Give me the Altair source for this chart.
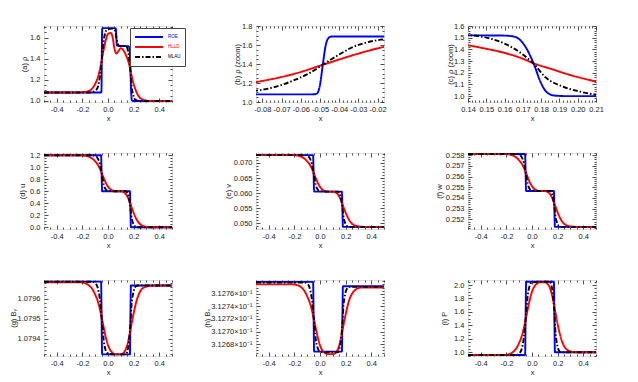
import json
import math
import altair as alt
import pandas as pd

FONT = "Liberation Sans"
METHODS = ["ROE", "HLLD", "MLAU"]
COLORS = ["#0000ff", "#ff0000", "#000000"]
DASHES = [[1, 0], [1, 0], [5, 2, 1.5, 2]]

# ---------------- density (panels a, b, c) ----------------
rho_x_roe = [-0.5, -0.3, -0.1, -0.06, -0.053, -0.0515, -0.05, -0.0485, -0.047, -0.0455, -0.044, -0.04,
             0.0, 0.04, 0.06, 0.063, 0.066, 0.069, 0.075, 0.1,
             0.14, 0.16, 0.165, 0.1678, 0.1715, 0.176, 0.1797, 0.183, 0.1873, 0.195, 0.21, 0.3, 0.5]
rho_roe = [1.08, 1.08, 1.08, 1.08, 1.081, 1.09, 1.18, 1.40, 1.60, 1.675, 1.69, 1.69,
           1.69, 1.69, 1.688, 1.66, 1.58, 1.53, 1.522, 1.52,
           1.52, 1.518, 1.51, 1.49, 1.42, 1.275, 1.12, 1.035, 1.005, 1.0, 1.0, 1.0, 1.0]
rho_x_hlld = [-0.5, -0.25, -0.2, -0.16, -0.13, -0.11, -0.0833, -0.0628, -0.048, -0.0333,
              -0.0167, 0.0, 0.02, 0.035, 0.05, 0.065, 0.08, 0.1, 0.12, 0.14,
              0.15, 0.16, 0.17, 0.176, 0.185, 0.195, 0.21, 0.23, 0.25, 0.28, 0.32, 0.5]
rho_hlld = [1.08, 1.08, 1.082, 1.09, 1.11, 1.14, 1.21, 1.30, 1.395, 1.49,
            1.58, 1.635, 1.645, 1.61, 1.50, 1.45, 1.47, 1.50, 1.48, 1.435,
            1.405, 1.37, 1.32, 1.28, 1.235, 1.185, 1.125, 1.065, 1.03, 1.01, 1.0, 1.0]
rho_x_mlau = [-0.5, -0.15, -0.12, -0.1, -0.0833, -0.075, -0.0628, -0.055, -0.048, -0.04,
              -0.0333, -0.025, -0.0167, 0.0, 0.03, 0.05, 0.06, 0.07, 0.08, 0.1,
              0.14, 0.1513, 0.1606, 0.1697, 0.176, 0.1824, 0.1914, 0.2005, 0.2103, 0.23, 0.26, 0.5]
rho_mlau = [1.08, 1.08, 1.085, 1.10, 1.12, 1.15, 1.235, 1.31, 1.40, 1.50,
            1.575, 1.63, 1.66, 1.68, 1.685, 1.675, 1.64, 1.57, 1.53, 1.52,
            1.521, 1.496, 1.445, 1.36, 1.275, 1.161, 1.085, 1.042, 1.014, 1.003, 1.0, 1.0]

# ---------------- x positions shared by panels d..i ----------------
x_roe = [-0.5, -0.054, -0.05, -0.046, 0.171, 0.175, 0.179, 0.5]
x_hlld = [-0.5, -0.22, -0.18, -0.15, -0.12, -0.1, -0.08, -0.06, -0.04, -0.02, 0.0, 0.03, 0.06,
          0.1, 0.12, 0.14, 0.16, 0.175, 0.19, 0.21, 0.23, 0.25, 0.28, 0.32, 0.36, 0.5]
x_mlau = [-0.5, -0.12, -0.1, -0.0833, -0.0628, -0.048, -0.0333, -0.0167, 0.0, 0.06,
          0.1, 0.14, 0.1513, 0.1606, 0.1697, 0.176, 0.1824, 0.1914, 0.2005, 0.2103, 0.23, 0.5]

u_roe = [1.2, 1.2, 0.9, 0.6, 0.6, 0.3, 0.0, 0.0]
u_hlld = [1.2, 1.2, 1.194, 1.176, 1.14, 1.098, 1.044, 0.96, 0.858, 0.756, 0.678, 0.618, 0.6,
          0.6, 0.588, 0.552, 0.474, 0.39, 0.30, 0.192, 0.108, 0.054, 0.018, 0.003, 0.0, 0.0]
u_mlau = [1.2, 1.2, 1.188, 1.16, 1.05, 0.888, 0.714, 0.63, 0.606, 0.6,
          0.6, 0.6, 0.57, 0.516, 0.414, 0.318, 0.186, 0.098, 0.048, 0.016, 0.0, 0.0]

v_roe = [0.0726, 0.0726, 0.0666, 0.0605, 0.0605, 0.0547, 0.0488, 0.0488]
v_hlld = [0.0726, 0.0726, 0.07248, 0.07212, 0.07139, 0.07054, 0.06945, 0.06776, 0.0657, 0.06365,
          0.06207, 0.06086, 0.0605,
          0.0605, 0.06027, 0.05956, 0.05804, 0.05641, 0.05465, 0.05254, 0.05091, 0.04985, 0.04915,
          0.04886, 0.0488, 0.0488]
v_mlau = [0.0726, 0.0726, 0.07236, 0.0718, 0.06958, 0.06631, 0.0628, 0.0611, 0.06062, 0.0605,
          0.0605, 0.0605, 0.05992, 0.05886, 0.05687, 0.055, 0.05243, 0.05071, 0.04974, 0.04912,
          0.0488, 0.0488]

w_roe = [0.2581, 0.2581, 0.2564, 0.25465, 0.25465, 0.2530, 0.2513, 0.2513]
w_hlld = [0.2581, 0.2581, 0.25807, 0.25796, 0.25776, 0.25751, 0.2572, 0.25672, 0.25613, 0.25555,
          0.2551, 0.25475, 0.25465,
          0.25465, 0.25458, 0.25438, 0.25395, 0.25348, 0.25298, 0.25237, 0.2519, 0.2516, 0.2514,
          0.25132, 0.2513, 0.2513]
w_mlau = [0.2581, 0.2581, 0.25803, 0.25787, 0.25724, 0.25631, 0.25531, 0.25482, 0.25468, 0.25465,
          0.25465, 0.25465, 0.25448, 0.25418, 0.25361, 0.25308, 0.25234, 0.25185, 0.25157, 0.25139,
          0.2513, 0.2513]

by_roe = [1.079687, 1.079687, 1.0795, 1.07932, 1.07932, 1.0795, 1.079667, 1.079667]
by_hlld = [1.079683, 1.079683, 1.079679, 1.079668, 1.079647, 1.079621, 1.079589, 1.079538, 1.079476,
           1.079414, 1.079367, 1.079331, 1.07932,
           1.07932, 1.079327, 1.079348, 1.079393, 1.079441, 1.079494, 1.079556, 1.079605, 1.079636,
           1.079657, 1.079665, 1.079667, 1.079667]
by_mlau = [1.079686, 1.079686, 1.079679, 1.079662, 1.079595, 1.079496, 1.07939, 1.079338, 1.079324,
           1.07932, 1.07932, 1.07932, 1.079337, 1.079369, 1.079428, 1.079483, 1.079559, 1.07961,
           1.079639, 1.079658, 1.079667, 1.079667]

bx_roe = [0.312779, 0.312779, 0.312724, 0.312668, 0.312668, 0.31272, 0.312772, 0.312772]
bx_hlld = [0.312775, 0.312775, 0.312774, 0.312771, 0.312764, 0.312756, 0.312746, 0.312731, 0.312712,
           0.312693, 0.312678, 0.312667, 0.312664,
           0.312664, 0.312666, 0.312672, 0.312686, 0.312701, 0.312717, 0.312736, 0.312751, 0.31276,
           0.312767, 0.31277, 0.31277, 0.31277]
bx_mlau = [0.312778, 0.312778, 0.312776, 0.312771, 0.31275, 0.31272, 0.312688, 0.312673, 0.312668,
           0.312667, 0.312667, 0.312667, 0.312672, 0.312682, 0.312699, 0.312716, 0.312739, 0.312754,
           0.312763, 0.312768, 0.312771, 0.312771]

p_roe = [0.96, 0.96, 1.505, 2.05, 2.05, 1.525, 1.0, 1.0]
p_hlld = [0.96, 0.96, 0.971, 1.003, 1.068, 1.144, 1.241, 1.392, 1.576, 1.759, 1.90, 2.008, 2.04,
          2.04, 2.019, 1.957, 1.822, 1.676, 1.52, 1.333, 1.187, 1.094, 1.031, 1.005, 1.0, 1.0]
p_mlau = [0.96, 0.96, 0.982, 1.032, 1.233, 1.527, 1.843, 1.996, 2.039, 2.05,
          2.05, 2.05, 1.998, 1.903, 1.725, 1.557, 1.326, 1.171, 1.084, 1.028, 1.0, 1.0]

# ---------------- tick labels ----------------
xticks_full = [-0.4, -0.2, 0.0, 0.2, 0.4]
xticks_b = [-0.08, -0.07, -0.06, -0.05, -0.04, -0.03, -0.02]
xticks_c = [0.14, 0.15, 0.16, 0.17, 0.18, 0.19, 0.2, 0.21]
yticks_a = [1.0, 1.2, 1.4, 1.6]
yticks_b = [1.0, 1.2, 1.4, 1.6, 1.8]
yticks_c = [1.0, 1.1, 1.2, 1.3, 1.4, 1.5, 1.6]
yticks_d = [0.0, 0.2, 0.4, 0.6, 0.8, 1.0, 1.2]
yticks_e = [0.05, 0.055, 0.06, 0.065, 0.07]
yticks_f = [0.252, 0.253, 0.254, 0.255, 0.256, 0.257, 0.258]
yticks_g = [1.0794, 1.0795, 1.0796]
yticks_h = [0.31268, 0.3127, 0.31272, 0.31274, 0.31276]
yticks_i = [1.0, 1.2, 1.4, 1.6, 1.8, 2.0]


def long_df(xs, ys):
    rows = []
    for m, xl, yl in zip(METHODS, xs, ys):
        for a, b in zip(xl, yl):
            rows.append({"x": a, "y": b, "method": m})
    return pd.DataFrame(rows)


def tick_values(majors, step, lo, hi):
    out = list(majors)
    k0 = math.ceil(lo / step - 1e-6)
    k1 = math.floor(hi / step + 1e-6)
    for k in range(k0, k1 + 1):
        v = round(k * step, 10)
        if all(abs(v - m) > step * 1e-3 for m in majors):
            out.append(v)
    return sorted(out)


def signed(fmt):
    return "(datum.value < 0 ? '-' : '') + format(abs(datum.value), '%s')" % fmt


def make_axis(orient, majors, step, dom, labels, title=None, label_expr=None, title_pos=None):
    vals = tick_values(majors, step, dom[0], dom[1])
    test = "indexof(%s, datum.value) >= 0" % json.dumps(majors)
    props = dict(
        orient=orient, values=vals, domain=False, grid=False, ticks=True,
        tickColor="#222", tickWidth=0.8,
        tickSize=alt.ExprRef(expr="(%s) ? -4 : -2" % test),
        labels=labels, labelOverlap=False, labelFlush=False,
        labelPadding=8 if orient == "left" else 7,
        labelFont=FONT, labelFontSize=7.5, labelColor="#222",
        title=title, titleFont=FONT, titleFontSize=7.5, titleFontWeight="normal",
        titleColor="#222",
    )
    if labels:
        props["labelExpr"] = "(%s) ? (%s) : ''" % (test, label_expr)
    if title is not None:
        props["titleBaseline"] = "middle"
        if orient == "left":
            props["titleX"] = title_pos
        else:
            props["titleY"] = title_pos
    return alt.Axis(**props)


LEGEND = alt.Legend(
    orient="none", legendX=86, legendY=2, title=None,
    fillColor="white", strokeColor="#444", padding=4,
    symbolType="stroke", symbolSize=780, symbolStrokeWidth=2,
    clipHeight=10, rowPadding=0, labelOffset=4,
    labelFont=FONT, labelFontSize=4.5,
    labelExpr="datum.label + '\u2003\u2003\u2003'",
    labelColor=alt.ExprRef(expr="datum.value == 'ROE' ? '#0000ff' : (datum.value == 'HLLD' ? '#ff0000' : '#000000')"),
)


def panel(df, xdom, ydom, xmaj, xstep, xfmt, ymaj, ystep, yfmt, ytitle, ytx, legend=False):
    xs = alt.Scale(domain=xdom, nice=False, zero=False)
    ys = alt.Scale(domain=ydom, nice=False, zero=False)
    leg = LEGEND if legend else None
    lines = alt.Chart(df).mark_line(interpolate="monotone", strokeWidth=1.9, clip=True).encode(
        x=alt.X("x:Q", scale=xs, axis=make_axis("bottom", xmaj, xstep, xdom, True, "x", xfmt, 16)),
        y=alt.Y("y:Q", scale=ys, axis=make_axis("left", ymaj, ystep, ydom, True, ytitle, yfmt, ytx)),
        color=alt.Color("method:N", scale=alt.Scale(domain=METHODS, range=COLORS), legend=leg),
        strokeDash=alt.StrokeDash("method:N", scale=alt.Scale(domain=METHODS, range=DASHES), legend=leg),
    )
    mirror = alt.Chart(df).mark_point(opacity=0, size=0, clip=True).encode(
        x=alt.X("x:Q", scale=xs, axis=make_axis("top", xmaj, xstep, xdom, False)),
        y=alt.Y("y:Q", scale=ys, axis=make_axis("right", ymaj, ystep, ydom, False)),
    )
    return alt.layer(lines, mirror).resolve_axis(x="independent", y="independent").properties(
        width=128, height=76)


rho_df = long_df([rho_x_roe, rho_x_hlld, rho_x_mlau], [rho_roe, rho_hlld, rho_mlau])
xs3 = [x_roe, x_hlld, x_mlau]
XF = [-0.5, 0.5]
F1 = signed(".1f")

panels = [
    panel(rho_df, XF, [0.99, 1.71], xticks_full, 0.05, F1, yticks_a, 0.05, F1, "(a) ρ", -20, legend=True),
    panel(rho_df, [-0.0833, -0.0167], [1.0, 1.8], xticks_b, 0.002, signed(".2f"), yticks_b, 0.05, F1, "(b) ρ (zoom)", -19),
    panel(rho_df, [0.14, 0.21], [0.95, 1.6], xticks_c, 0.002, signed(".2f"), yticks_c, 0.02, F1, "(c) ρ (zoom)", -18),
    panel(long_df(xs3, [u_roe, u_hlld, u_mlau]), XF, [-0.028, 1.238], xticks_full, 0.05, F1, yticks_d, 0.05, F1, "(d) u", -22),
    panel(long_df(xs3, [v_roe, v_hlld, v_mlau]), XF, [0.0481, 0.0733], xticks_full, 0.05, F1, yticks_e, 0.001, signed(".3f"), "(e) v", -28),
    panel(long_df(xs3, [w_roe, w_hlld, w_mlau]), XF, [0.2511, 0.2582], xticks_full, 0.05, F1, yticks_f, 0.0002, signed(".3f"), "(f) w", -29),
    panel(long_df(xs3, [by_roe, by_hlld, by_mlau]), XF, [1.079312, 1.079695], xticks_full, 0.05, F1, yticks_g, 0.00002, signed(".4f"), "(g) Bᵧ", -31),
    panel(long_df(xs3, [bx_roe, bx_hlld, bx_mlau]), XF, [0.312661, 0.312782], xticks_full, 0.05, F1, yticks_h, 0.000005, "format(datum.value * 10, '.4f') + '×10⁻¹'", "(h) Bₓ", -49),
    panel(long_df(xs3, [p_roe, p_hlld, p_mlau]), XF, [0.945, 2.075], xticks_full, 0.05, F1, yticks_i, 0.05, F1, "(i) P", -24),
]

chart = alt.ConcatChart(
    concat=panels, columns=3, spacing={"row": 51, "column": 84}, bounds="flush"
).resolve_scale(color="independent", strokeDash="independent").properties(
    padding={"left": 0, "top": 13, "right": 5, "bottom": 5}
).configure_view(stroke="#222", strokeWidth=1).configure(font=FONT)

chart.save("out.html", embed_options={"renderer": "svg", "actions": False})
